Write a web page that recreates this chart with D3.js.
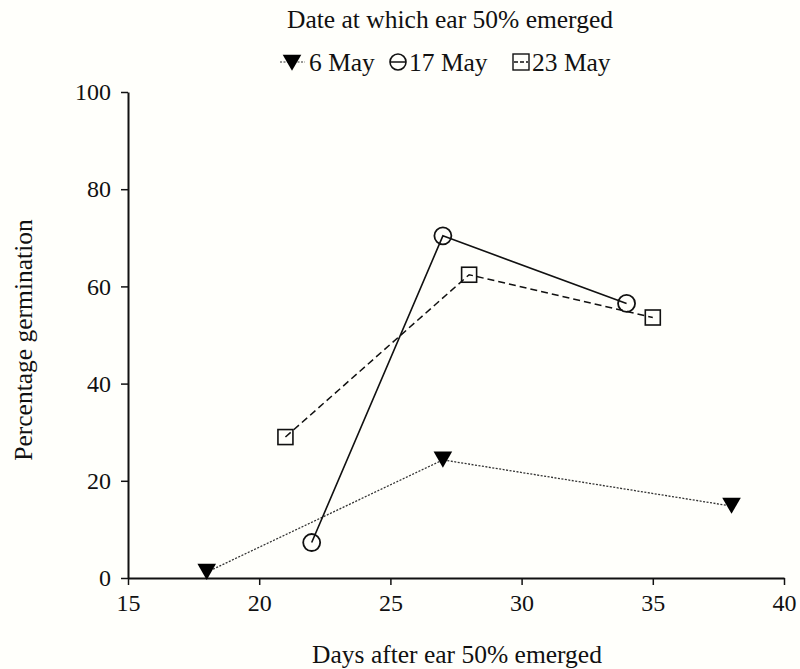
<!DOCTYPE html>
<html>
<head>
<meta charset="utf-8">
<script src="https://cdn.jsdelivr.net/npm/d3@7"></script>
<style>
  body { margin: 0; background: #fffffb; }
  svg { font-family: "Liberation Serif", "Times New Roman", serif; }
</style>
</head>
<body>
<div id="chart"></div>
<script>
var width  = 800;
var height = 669;

// data
var xTicks = [15, 20, 25, 30, 35, 40];
var yTicks = [0, 20, 40, 60, 80, 100];

var may6Days  = [18, 27, 38];
var may6Germ  = [1.2, 24.3, 14.8];
var may17Days = [22, 27, 34];
var may17Germ = [7.3, 70.4, 56.5];
var may23Days = [21, 28, 35];
var may23Germ = [29, 62.4, 53.6];

var seriesNames = ["6 May", "17 May", "23 May"];

var margin = {left: 128, right: 16, top: 92, bottom: 91};

var svg = d3.select("#chart").append("svg")
    .attr("width", width)
    .attr("height", height);

var x = d3.scaleLinear().domain([15, 40]).range([margin.left, width - margin.right]);
var y = d3.scaleLinear().domain([0, 100]).range([height - margin.bottom, margin.top]);

// ------------- axes -----------------
var xAxis = svg.append("g")
    .attr("transform", "translate(0," + y(0) + ")")
    .call(d3.axisBottom(x).tickValues(xTicks).tickSize(7).tickPadding(9).tickSizeOuter(0));

var yAxis = svg.append("g")
    .attr("transform", "translate(" + x(15) + ",0)")
    .call(d3.axisLeft(y).tickValues(yTicks).tickSize(7).tickPadding(10).tickSizeOuter(0));

[xAxis, yAxis].forEach(function(ax){
  ax.select(".domain").attr("stroke", "#111").attr("stroke-width", 2);
  ax.selectAll(".tick line").attr("stroke", "#111").attr("stroke-width", 1.5);
  ax.selectAll(".tick text")
    .attr("fill", "#111")
    .style("font-size", "24px")
    .style("font-family", "Liberation Serif");
});

svg.append("text")
    .attr("x", 457).attr("y", 663)
    .attr("text-anchor", "middle")
    .style("font-size", "25.5px")
    .attr("fill", "#111")
    .text("Days after ear 50% emerged");

svg.append("text")
    .attr("transform", "translate(32,340) rotate(-90)")
    .attr("text-anchor", "middle")
    .style("font-size", "25.5px")
    .attr("fill", "#111")
    .text("Percentage germination");

// ------------- lines -----------------
var line = d3.line()
    .x(function(d){ return x(d[0]); })
    .y(function(d){ return y(d[1]); });

var pts6  = d3.zip(may6Days, may6Germ);
var pts17 = d3.zip(may17Days, may17Germ);
var pts23 = d3.zip(may23Days, may23Germ);

svg.append("path").datum(pts6).attr("d", line)
    .attr("fill", "none").attr("stroke", "#333")
    .attr("stroke-width", 1.3).attr("stroke-dasharray", "2,1.5");

svg.append("path").datum(pts17).attr("d", line)
    .attr("fill", "none").attr("stroke", "#111").attr("stroke-width", 1.6);

svg.append("path").datum(pts23).attr("d", line)
    .attr("fill", "none").attr("stroke", "#111")
    .attr("stroke-width", 1.5).attr("stroke-dasharray", "7,4");

// ------------- markers -----------------
var triangle = d3.symbol().type(d3.symbolTriangle).size(150);

svg.selectAll(".tri").data(pts6).enter()
  .append("path")
    .attr("class", "tri")
    .attr("d", triangle)
    .attr("transform", function(d){ return "translate(" + x(d[0]) + "," + (y(d[1]) - 3) + ") rotate(180)"; })
    .attr("fill", "#000");

svg.selectAll(".circ").data(pts17).enter()
  .append("circle")
    .attr("class", "circ")
    .attr("cx", function(d){ return x(d[0]); })
    .attr("cy", function(d){ return y(d[1]); })
    .attr("r", 8.5)
    .attr("fill", "none")
    .attr("stroke", "#111")
    .attr("stroke-width", 1.8);

svg.selectAll(".sq").data(pts23).enter()
  .append("rect")
    .attr("class", "sq")
    .attr("x", function(d){ return x(d[0]) - 7.5; })
    .attr("y", function(d){ return y(d[1]) - 7.5; })
    .attr("width", 15).attr("height", 15)
    .attr("fill", "none")
    .attr("stroke", "#111")
    .attr("stroke-width", 1.6);

// ------------- legend -----------------
svg.append("text")
    .attr("x", 450).attr("y", 28)
    .attr("text-anchor", "middle")
    .style("font-size", "25.5px")
    .attr("fill", "#111")
    .text("Date at which ear 50% emerged");

var legY = 62;
var legend = svg.append("g");

legend.append("line")
    .attr("x1", 280).attr("x2", 305).attr("y1", legY).attr("y2", legY)
    .attr("stroke", "#333").attr("stroke-width", 1).attr("stroke-dasharray", "2,1.5");
legend.append("path")
    .attr("d", triangle)
    .attr("transform", "translate(292," + (legY - 2) + ") rotate(180)")
    .attr("fill", "#000");

legend.append("line")
    .attr("x1", 390).attr("x2", 406).attr("y1", legY).attr("y2", legY)
    .attr("stroke", "#111").attr("stroke-width", 1.5);
legend.append("circle")
    .attr("cx", 398).attr("cy", legY).attr("r", 8)
    .attr("fill", "none").attr("stroke", "#111").attr("stroke-width", 1.6);

legend.append("line")
    .attr("x1", 514).attr("x2", 528).attr("y1", legY).attr("y2", legY)
    .attr("stroke", "#111").attr("stroke-width", 1.3).attr("stroke-dasharray", "4,2");
legend.append("rect")
    .attr("x", 513).attr("y", legY - 8).attr("width", 16).attr("height", 16)
    .attr("fill", "none").attr("stroke", "#111").attr("stroke-width", 1.4);

var legX = [309, 409, 532];
legend.selectAll(".legtext").data(seriesNames).enter()
  .append("text")
    .attr("class", "legtext")
    .attr("x", function(d, i){ return legX[i]; })
    .attr("y", legY + 9)
    .style("font-size", "25.5px")
    .attr("fill", "#111")
    .text(function(d){ return d; });
</script>
</body>
</html>
